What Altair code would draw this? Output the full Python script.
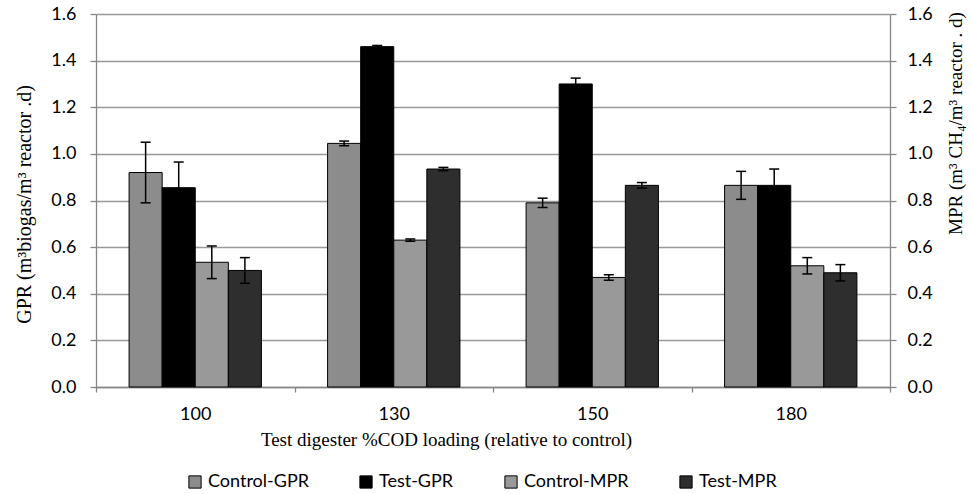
import altair as alt
import pandas as pd

categories = ["100", "130", "150", "180"]
series = ["Control-GPR", "Test-GPR", "Control-MPR", "Test-MPR"]
colors = ["#8c8c8c", "#000000", "#999999", "#2e2e2e"]

control_gpr = [0.92, 1.045, 0.79, 0.865]
control_gpr_err = [0.13, 0.01, 0.02, 0.06]
test_gpr = [0.855, 1.46, 1.30, 0.865]
test_gpr_err = [0.11, 0.005, 0.025, 0.07]
control_mpr = [0.535, 0.63, 0.47, 0.52]
control_mpr_err = [0.07, 0.005, 0.012, 0.035]
test_mpr = [0.50, 0.935, 0.865, 0.49]
test_mpr_err = [0.055, 0.007, 0.012, 0.035]

values = [control_gpr, test_gpr, control_mpr, test_mpr]
errors = [control_gpr_err, test_gpr_err, control_mpr_err, test_mpr_err]

rows = []
for s, vals, errs in zip(series, values, errors):
    for c, v, e in zip(categories, vals, errs):
        rows.append({"cat": c, "series": s, "val": v, "lo": v - e, "hi": v + e})
df = pd.DataFrame(rows)

ticks = [0, 0.2, 0.4, 0.6, 0.8, 1.0, 1.2, 1.4, 1.6]
yscale = alt.Scale(domain=[0, 1.6], nice=False, zero=True)

x_enc = alt.X(
    "cat:N", sort=categories,
    scale=alt.Scale(paddingInner=0, paddingOuter=0),
    axis=alt.Axis(
        title="Test digester %COD loading (relative to control)",
        labelAngle=0, tickBand="extent", tickSize=5, labelPadding=13,
        titleX=350, titleY=52, titleAnchor="start", titleAlign="center",
        titleBaseline="middle", titleFontSize=19,
    ),
)
xo_enc = alt.XOffset("series:N", sort=series,
                     scale=alt.Scale(paddingInner=0, paddingOuter=1.0))

left_axis = alt.Axis(
    title="GPR (m³biogas/m³ reactor .d)", values=ticks, format=".1f",
    orient="left", grid=True, tickSize=6, labelPadding=14,
    titleX=-72, titleY=190, titleAngle=270, titleAlign="center",
    titleBaseline="middle", titleFontSize=20,
)

base = alt.Chart(df)

bars = base.mark_bar(stroke="black", strokeWidth=1).encode(
    x=x_enc,
    xOffset=xo_enc,
    y=alt.Y("val:Q", scale=yscale, axis=left_axis),
    color=alt.Color("series:N", sort=series,
                    scale=alt.Scale(domain=series, range=colors),
                    legend=alt.Legend(
                        title=None, orient="none", direction="horizontal",
                        legendX=90, legendY=459, symbolType="square",
                        symbolSize=150, symbolStrokeColor="black",
                        symbolStrokeWidth=1, labelFont="Lato",
                        labelFontSize=18, labelColor="#000000",
                        columnPadding=48, symbolOpacity=1,
                    )),
)

rule = base.mark_rule(color="black", strokeWidth=1.5).encode(
    x=x_enc, xOffset=xo_enc,
    y=alt.Y("lo:Q", scale=yscale, axis=left_axis), y2="hi:Q",
)
cap_lo = base.mark_tick(orient="horizontal", size=10, thickness=1.5,
                        color="black", opacity=1).encode(
    x=x_enc, xOffset=xo_enc, y=alt.Y("lo:Q", scale=yscale, axis=left_axis))
cap_hi = base.mark_tick(orient="horizontal", size=10, thickness=1.5,
                        color="black", opacity=1).encode(
    x=x_enc, xOffset=xo_enc, y=alt.Y("hi:Q", scale=yscale, axis=left_axis))

inner = alt.layer(bars, rule, cap_lo, cap_hi)

ghost = base.mark_point(opacity=0).encode(
    y=alt.Y("val:Q", scale=yscale, axis=alt.Axis(
        title="MPR (m³ CH₄/m³ reactor . d)", values=ticks, format=".1f",
        orient="right", grid=False, tickSize=6, labelPadding=11,
        titleX=65, titleY=109, titleAngle=270, titleAlign="center",
        titleBaseline="middle", titleFontSize=19,
    )),
)

chart = alt.layer(inner, ghost).resolve_scale(y="independent").properties(
    width=794, height=373,
    padding={"left": 96, "top": 14, "right": 82, "bottom": 107},
    autosize=alt.AutoSizeParams(type="none"),
).configure_view(stroke=None).configure_axis(
    labelFont="Lato", labelFontSize=18, labelColor="#000000",
    domainColor="#868686", domainWidth=1.3, tickColor="#868686", tickWidth=1.3,
    gridColor="#999999", gridWidth=1.5,
    titleFont="Liberation Serif", titleFontWeight="normal",
    titleColor="#000000",
)

chart.save("out.html", embed_options={"renderer": "svg", "actions": False})
